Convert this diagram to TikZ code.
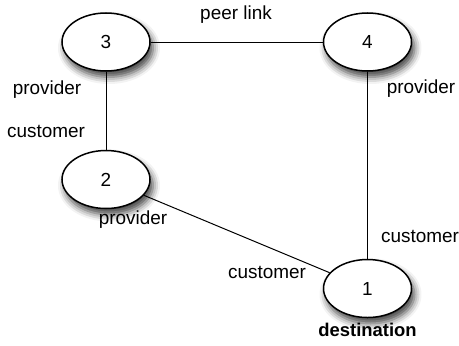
\documentclass[tikz,border=0pt]{standalone}
\usepackage{fontspec}
\setmainfont{Liberation Sans}
\usepackage{tikz}
\usetikzlibrary{positioning,shapes.geometric,shadows.blur}

\begin{document}
\begin{tikzpicture}[x=1bp,y=1bp,
  as/.style={ellipse,draw,line width=1.5bp,fill=white,minimum width=88bp,minimum height=58bp,
    inner sep=0pt,font=\fontsize{19}{22}\selectfont,
    blur shadow={shadow xshift=3bp,shadow yshift=-6bp,shadow blur radius=7bp,shadow opacity=75}},
  rel/.style={font=\fontsize{19}{22}\selectfont,inner sep=0pt},
  link/.style={line width=1bp,black}
]
  \useasboundingbox (0,0) rectangle (459,345);
  \node[as] (n3) at (106,303) {3};
  \node[as,right=172bp of n3] (n4) {4};
  \node[as,below=78bp of n3] (n2) {2};
  \node[as,below=187bp of n4] (n1) {1};
  \draw[link] (n3)--(n4);
  \draw[link] (n3)--(n2);
  \draw[link] (n4)--(n1);
  \draw[link] (n2)--(n1);
  \node[rel] (pl) at (236,330) {peer link};
  \node[rel] (p3) at (47,255) {provider};
  \node[rel] (c2) at (46,214) {customer};
  \node[rel] (p4) at (421,256) {provider};
  \node[rel] (c1a) at (420,109) {customer};
  \node[rel] (p2) at (133,125) {provider};
  \node[rel] (c1b) at (267,73) {customer};
  \node[rel,font=\fontsize{18.5}{21}\selectfont\bfseries,below=5bp of n1] (dst) {destination};
\end{tikzpicture}
\end{document}
